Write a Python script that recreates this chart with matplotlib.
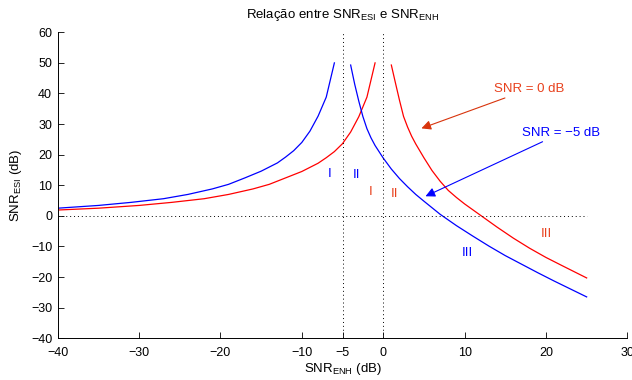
import numpy as np
import matplotlib
matplotlib.use("Agg")
import matplotlib.pyplot as plt

plt.rcParams['font.family'] = ['Liberation Sans', 'DejaVu Sans']
plt.rcParams['mathtext.default'] = 'regular'

# SNR = 0 dB (vermelho), ramo esquerdo e direito
red_left_x = [-40, -35, -30, -26, -22, -19, -16, -14, -12, -10, -8, -7, -6, -5, -4, -3, -2, -1]
red_left_y = [1.9, 2.5, 3.4, 4.4, 5.6, 7.0, 8.8, 10.3, 12.4, 14.5, 17.2, 19.0, 21.0, 23.6, 27.4, 32.4, 38.8, 50.0]
red_right_x = [1, 1.5, 2, 2.5, 3, 3.5, 4, 5, 6, 7, 8, 9, 10, 12, 14, 16, 18, 20, 22, 25]
red_right_y = [49.3, 43.5, 37.8, 32.5, 29.0, 26.0, 23.5, 19.0, 14.8, 11.3, 8.3, 6.0, 3.9, 0.1, -3.7, -7.3, -10.6, -13.6, -16.3, -20.3]

# SNR = -5 dB (azul)
blue_left_x = [-40, -35, -31, -27, -24, -21, -19, -17, -15, -13, -12, -11, -10, -9, -8, -7, -6]
blue_left_y = [2.5, 3.4, 4.4, 5.6, 7.0, 8.8, 10.3, 12.4, 14.6, 17.3, 19.2, 21.3, 24.0, 27.7, 32.6, 38.8, 50.0]
blue_right_x = [-4, -3.5, -3, -2.5, -2, -1.5, -1, 0, 1, 2, 3, 4, 5, 7, 9, 11, 13, 15, 17, 19, 21, 23, 25]
blue_right_y = [49.3, 43.0, 37.5, 32.5, 28.5, 25.5, 23.0, 18.9, 15.3, 12.2, 9.5, 7.0, 4.8, 0.5, -3.2, -6.6, -9.9, -13.0, -15.8, -18.6, -21.3, -23.9, -26.5]

xticks = [-40, -30, -20, -10, -5, 0, 10, 20, 30]
yticks = list(range(-40, 61, 10))

red = (1, 0, 0)
blue = (0, 0, 1)
red_txt = '#e8401c'

fig = plt.figure(figsize=(6.32, 3.8), dpi=100)
ax = fig.add_axes([0.0913, 0.110, 0.9013, 0.805])

ax.plot(red_left_x, red_left_y, color=red, lw=0.9)
ax.plot(red_right_x, red_right_y, color=red, lw=0.9)
ax.plot(blue_left_x, blue_left_y, color=blue, lw=0.9)
ax.plot(blue_right_x, blue_right_y, color=blue, lw=0.9)

# linhas pontilhadas de referência
ax.plot([-40, 25], [0, 0], color='k', ls=(0, (1, 3)), lw=0.7)
ax.plot([-5, -5], [-40, 60], color='k', ls=(0, (1, 3)), lw=0.7)
ax.plot([0, 0], [-40, 60], color='k', ls=(0, (1, 3)), lw=0.7)

# anotações
ax.annotate('SNR = 0 dB', xy=(4.7, 28.6), xytext=(13.6, 41.4),
            color=red_txt, fontsize=9.5, va='center', ha='left',
            arrowprops=dict(arrowstyle='-|>', color='#d8340c', lw=0.8,
                            mutation_scale=14, shrinkA=0, shrinkB=0))
ax.annotate('SNR = \u22125 dB', xy=(5.2, 6.4), xytext=(17.1, 27.1),
            color=blue, fontsize=9.5, va='center', ha='left',
            arrowprops=dict(arrowstyle='-|>', color=blue, lw=0.8,
                            mutation_scale=14, shrinkA=0, shrinkB=0))

# regiões
ax.text(-6.6, 13.6, 'I', color=blue, fontsize=9.5, ha='center', va='center')
ax.text(-3.3, 13.3, 'II', color=blue, fontsize=9.5, ha='center', va='center')
ax.text(10.3, -12.1, 'III', color=blue, fontsize=9.5, ha='center', va='center')
ax.text(-1.55, 7.9, 'I', color=red_txt, fontsize=9.5, ha='center', va='center')
ax.text(1.45, 7.3, 'II', color=red_txt, fontsize=9.5, ha='center', va='center')
ax.text(20.1, -6.0, 'III', color=red_txt, fontsize=9.5, ha='center', va='center')

ax.set_xlim(-40, 30)
ax.set_ylim(-40, 60)
ax.set_xticks(xticks)
ax.set_xticklabels([str(t).replace('-', '\u2212') for t in xticks])
ax.set_yticks(yticks)
ax.set_yticklabels([str(t).replace('-', '\u2212') for t in yticks])
ax.tick_params(direction='in', length=4, width=0.6, labelsize=9)
ax.tick_params(axis='x', pad=6)
ax.tick_params(axis='y', pad=4)
ax.spines['top'].set_visible(False)
ax.spines['right'].set_visible(False)
ax.spines['left'].set_linewidth(0.7)
ax.spines['bottom'].set_linewidth(0.7)

ax.set_xlabel('SNR$_{ENH}$ (dB)', fontsize=9.5, labelpad=2)
ax.set_ylabel('SNR$_{ESI}$ (dB)', fontsize=9.5, labelpad=5)
ax.set_title('Relação entre SNR$_{ESI}$ e SNR$_{ENH}$', fontsize=9.5, pad=10)

fig.savefig('out.png', dpi=100)
